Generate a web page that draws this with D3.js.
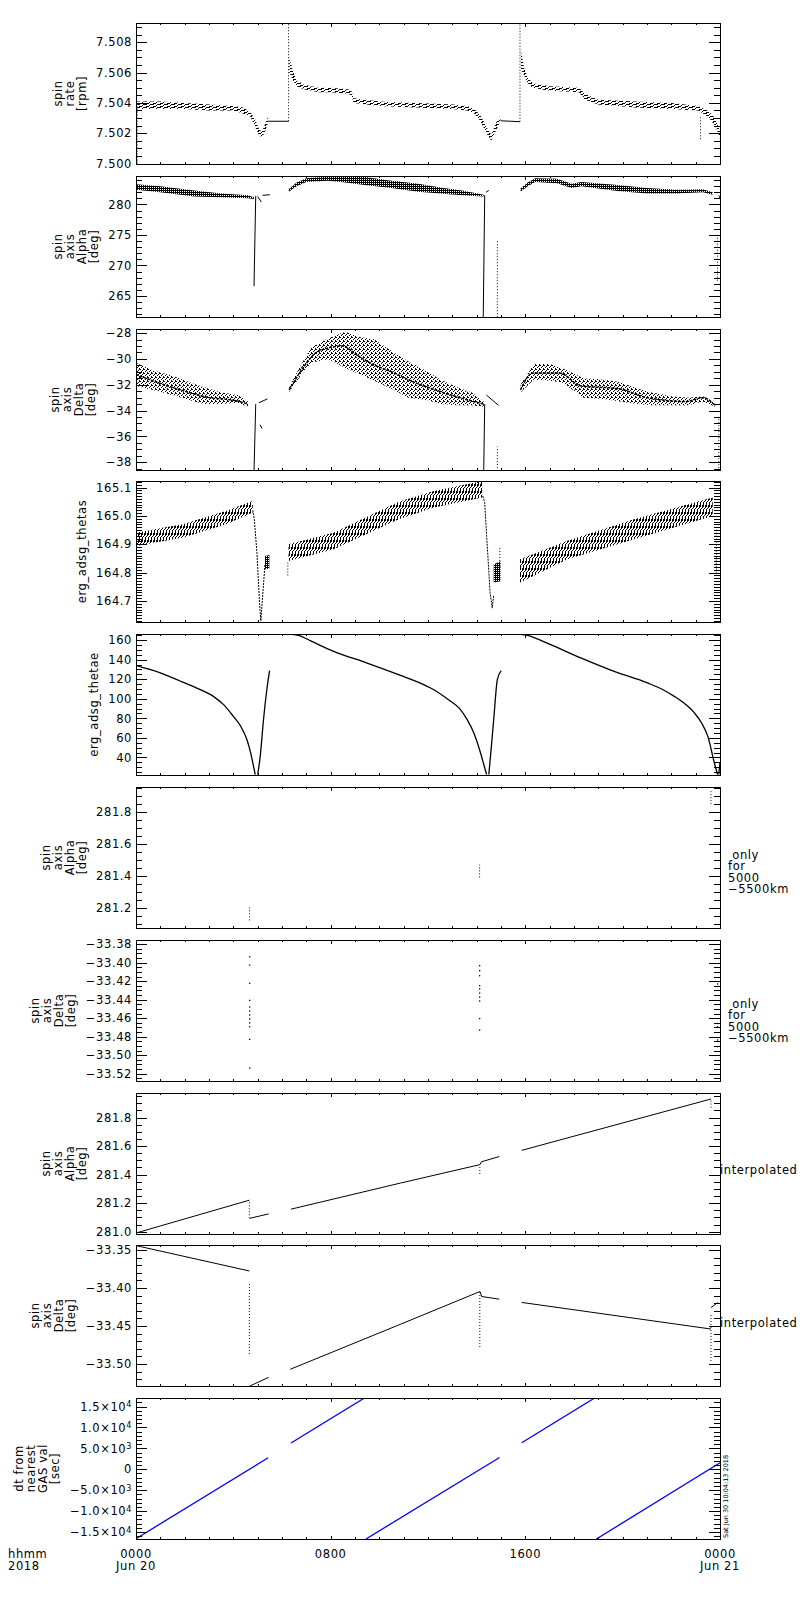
<!DOCTYPE html>
<html>
<head>
<meta charset="utf-8">
<script src="https://cdn.jsdelivr.net/npm/d3@7"></script>
<style>
  body { margin: 0; background: #fff; }
  text { font-family: "DejaVu Sans", sans-serif; font-size: 11.5px; letter-spacing: 0.6px; fill: #000; }
  .stamp { font-size: 6.5px; letter-spacing: 0; }
</style>
</head>
<body>
<div id="chart"></div>
<script>
// ---- x axis (hours of Jun 20 2018) ----
const xMajor = [0, 8, 16, 24];
const xMajorLabels = ["0000", "0800", "1600", "0000"];
const xDateLabels = ["Jun 20", "", "", "Jun 21"];

// ---- panel 1 : spin rate [rpm]  ([hour, low, high] bands, [hour, value] lines) ----
const rateTicks = [7.500, 7.502, 7.504, 7.506, 7.508];
const rateBand1 = [[0.05, 7.5036, 7.5041], [1.0, 7.5036, 7.5041], [2.0, 7.5036, 7.5040], [3.0, 7.5035, 7.5039],
  [4.0, 7.5035, 7.5038], [4.4, 7.5033, 7.5037], [4.7, 7.5031, 7.5034], [4.9, 7.5024, 7.5029],
  [5.05, 7.5019, 7.5023], [5.17, 7.5017, 7.5021], [5.3, 7.5021, 7.5026], [5.43, 7.5027, 7.5031]];
const rateBand2 = [[6.3, 7.5060, 7.5070], [6.45, 7.5055, 7.5061], [6.6, 7.5051, 7.5055], [6.9, 7.5049, 7.5052],
  [7.5, 7.5047, 7.5050], [8.0, 7.5047, 7.5050], [8.7, 7.5046, 7.5049], [8.85, 7.5045, 7.5048],
  [8.95, 7.5040, 7.5043], [10.0, 7.5038, 7.5041], [11.5, 7.5037, 7.5040], [13.0, 7.5036, 7.5039],
  [13.6, 7.5035, 7.5038], [13.9, 7.5033, 7.5036], [14.15, 7.5028, 7.5032], [14.4, 7.5020, 7.5024],
  [14.6, 7.5015, 7.5019], [14.8, 7.5022, 7.5027], [14.98, 7.5028, 7.5031]];
const rateBand3 = [[15.82, 7.5062, 7.5075], [15.95, 7.5058, 7.5063], [16.1, 7.5053, 7.5057], [16.3, 7.5050, 7.5053],
  [17.0, 7.5048, 7.5051], [18.2, 7.5047, 7.5050], [18.45, 7.5042, 7.5046], [19.0, 7.5039, 7.5042],
  [20.5, 7.5037, 7.5041], [22.0, 7.5036, 7.5040], [23.1, 7.5035, 7.5038], [23.5, 7.5031, 7.5035],
  [23.8, 7.5025, 7.5030], [24.0, 7.5017, 7.5021]];
const rateFlat1 = [[5.43, 7.50279], [6.27, 7.50279]];
const rateFlat2 = [[14.98, 7.50282], [15.4, 7.50279], [15.78, 7.50276]];
const rateSpikes = [[0.05, 7.5000, 7.5038], [6.27, 7.50279, 7.50927], [15.78, 7.50276, 7.50927], [23.2, 7.5016, 7.5031]];

// ---- panel 2 : spin axis Alpha [deg] ----
const alphaTicks = [265, 270, 275, 280];
const alphaBand1 = [[0.0, 282.4, 283.3], [1.0, 282.0, 283.0], [2.4, 281.3, 282.3], [3.5, 281.2, 281.8],
  [4.6, 281.0, 281.5], [4.85, 280.9, 281.2]];
const alphaBand2 = [[6.28, 282.1, 282.5], [6.6, 283.0, 283.6], [7.0, 283.7, 284.3], [7.9, 283.9, 284.6],
  [8.6, 283.6, 284.6], [9.4, 283.2, 284.5], [10.5, 282.7, 283.9], [11.6, 282.1, 283.4],
  [12.5, 281.8, 282.8], [13.4, 281.5, 282.3], [14.29, 281.3, 281.6]];
const alphaBand3 = [[15.8, 282.1, 282.6], [16.1, 283.0, 283.6], [16.4, 283.7, 284.3], [17.3, 283.5, 284.2],
  [17.9, 282.7, 283.4], [18.3, 283.0, 283.7], [19.8, 282.2, 283.2], [21.0, 281.8, 282.7],
  [22.2, 281.8, 282.4], [23.3, 282.0, 282.5], [23.7, 281.6, 282.0]];
const alphaDrop1 = [[4.92, 281.4], [4.85, 266.6]];
const alphaDrop2 = [[14.33, 281.5], [14.27, 261.5]];
const alphaBits = [[[5.0, 281.3], [5.15, 280.4]], [[5.2, 281.5], [5.5, 281.6]], [[14.38, 282.0], [14.5, 282.3]],
  [[23.95, 281.5], [24.0, 281.0]]];
const alphaDotted = [[14.85, 261.5, 274.2], [23.9, 267.5, 275.0]];

// ---- panel 3 : spin axis Delta [deg] ----
const deltaTicks = [-38, -36, -34, -32, -30, -28];
const deltaBand1 = [[0.0, -32.1, -30.3], [0.7, -32.4, -30.9], [1.5, -32.8, -31.3], [2.2, -33.2, -31.8],
  [2.8, -33.5, -32.2], [3.5, -33.5, -32.6], [4.2, -33.4, -32.8], [4.6, -33.7, -33.3]];
const deltaBand2 = [[6.28, -32.6, -32.2], [6.8, -31.2, -30.4], [7.2, -30.3, -29.1], [7.9, -30.0, -28.4],
  [8.6, -30.7, -27.9], [9.2, -31.2, -28.3], [9.8, -31.7, -28.5], [10.6, -32.4, -29.5],
  [11.2, -33.0, -30.2], [12.0, -33.2, -31.0], [12.5, -33.5, -31.6], [13.2, -33.6, -32.2],
  [13.8, -33.6, -32.6], [14.29, -33.7, -33.3]];
const deltaBand3 = [[15.8, -32.6, -32.0], [16.35, -31.6, -30.4], [17.0, -31.7, -30.4], [17.5, -31.8, -30.7],
  [18.4, -33.0, -31.5], [19.2, -33.1, -31.6], [19.9, -33.3, -31.8], [20.6, -33.5, -32.3],
  [21.2, -33.6, -32.6], [22.0, -33.6, -32.9], [22.7, -33.6, -33.0], [23.3, -33.3, -32.9],
  [23.8, -33.7, -33.5]];
const deltaCore1 = [[0, -31.2], [1, -31.9], [2, -32.5], [3, -33.0], [4, -33.2], [4.6, -33.5]];
const deltaCore2 = [[6.3, -32.4], [6.9, -30.6], [7.5, -29.4], [8.5, -29.0], [9.0, -29.6], [9.7, -30.4],
  [10.5, -31.0], [11.3, -31.7], [12.3, -32.4], [13.3, -33.0], [14.29, -33.5]];
const deltaCore3 = [[15.8, -32.4], [16.3, -31.1], [17.4, -31.1], [18.3, -32.1], [19.8, -32.3], [21.0, -33.0],
  [22.6, -33.3], [23.3, -33.0], [23.8, -33.6]];
const deltaDrop1 = [[4.92, -33.5], [4.85, -38.7]];
const deltaDrop2 = [[14.33, -33.5], [14.29, -38.7]];
const deltaBits = [[[5.05, -33.4], [5.4, -33.1]], [[5.1, -35.1], [5.18, -35.4]], [[14.4, -32.8], [14.9, -33.6]]];
const deltaDotted = [[14.85, -38.7, -36.8], [23.95, -38.7, -34.5]];

// ---- panel 4 : erg_adsg_thetas ----
const thetasTicks = [164.7, 164.8, 164.9, 165.0, 165.1];
const thetasBand1 = [[0.0, 164.894, 164.941], [1.95, 164.924, 164.971], [3.73, 164.971, 165.018], [4.8, 165.012, 165.053]];
const thetasBand2 = [[6.27, 164.841, 164.9], [8.12, 164.882, 164.941], [10.8, 164.988, 165.05],
  [12.24, 165.03, 165.088], [14.23, 165.065, 165.123]];
const thetasBand3 = [[15.78, 164.765, 164.847], [17.73, 164.847, 164.912], [20.47, 164.918, 164.988], [23.7, 165.0, 165.065]];
const thetasClump1 = [[5.30, 164.812, 164.859], [5.48, 164.815, 164.862]];
const thetasClump2 = [[14.7, 164.765, 164.83], [14.98, 164.77, 164.84]];
const thetasDip1 = [[4.80, 165.02], [4.86, 164.99], [4.97, 164.87], [5.08, 164.69], [5.13, 164.63],
  [5.19, 164.70], [5.25, 164.77], [5.30, 164.83]];
const thetasDip2 = [[14.25, 165.07], [14.33, 165.047], [14.41, 164.93], [14.46, 164.86], [14.55, 164.73],
  [14.64, 164.675], [14.7, 164.72]];
const thetasDotted = [[6.24, 164.79, 164.84], [23.85, 164.80, 164.96], [14.95, 164.82, 164.89]];

// ---- panel 5 : erg_adsg_thetae ----
const thetaeTicks = [40, 60, 80, 100, 120, 140, 160];
const thetae1 = [[0, 134.0], [0.5, 130.5], [1.0, 126.5], [1.81, 118.2], [2.5, 111], [3.18, 102.5], [3.6, 94],
  [4.0, 82], [4.3, 72], [4.56, 58.1], [4.7, 46], [4.83, 30.8], [4.9, 22.5]];
const thetae1b = [[5.0, 22.5], [5.1, 40], [5.24, 78.6], [5.38, 110], [5.49, 128.8]];
const thetae2 = [[6.27, 166.3], [6.68, 165], [7.2, 159], [8.12, 148.5], [9.5, 136.6], [10.87, 124], [11.6, 117],
  [12.24, 109.3], [12.9, 98], [13.3, 90], [13.61, 78.6], [13.9, 64], [14.16, 44.5], [14.3, 32], [14.41, 22.5]];
const thetae2b = [[14.5, 22.5], [14.6, 50], [14.7, 78.6], [14.85, 119.6], [15.01, 128.8]];
const thetae3 = [[15.77, 166.3], [16.08, 165], [17.04, 155.4], [18.28, 141.8], [19.65, 128], [21.02, 116.2],
  [21.6, 110], [22.12, 102.5], [22.6, 94], [22.95, 85.5], [23.25, 75], [23.5, 61.5], [23.77, 34.3], [23.9, 22.5]];
const thetae3b = [[23.95, 22.5], [24.0, 35]];

// ---- panel 6 : Alpha, only for 5000-5500km ([hour, low, high] dot columns) ----
const alphaOnlyTicks = [281.2, 281.4, 281.6, 281.8];
const alphaOnly = [[4.67, 281.12, 281.21], [14.12, 281.39, 281.47], [23.63, 281.85, 281.94]];

// ---- panel 7 : Delta, only for 5000-5500km ----
const deltaOnlyTicks = [-33.52, -33.50, -33.48, -33.46, -33.44, -33.42, -33.40, -33.38];
const deltaOnly = [[4.67, -33.3936], [4.67, -33.4025], [4.67, -33.4222], [4.67, -33.4407], [4.67, -33.4479],
  [4.67, -33.4522], [4.67, -33.4565], [4.67, -33.4607], [4.67, -33.465], [4.67, -33.4693], [4.67, -33.4829],
  [4.67, -33.514],
  [14.12, -33.4032], [14.12, -33.4086], [14.12, -33.414], [14.12, -33.4247], [14.12, -33.4282], [14.12, -33.4329],
  [14.12, -33.4372], [14.12, -33.4414], [14.12, -33.4604], [14.12, -33.4729],
  [23.9, -33.4229], [23.9, -33.4657], [23.9, -33.4693], [23.9, -33.4836], [23.9, -33.4907]];

// ---- panel 8 : Alpha interpolated ----
const alphaIntTicks = [281.0, 281.2, 281.4, 281.6, 281.8];
const alphaInt = [
  [[0.0, 280.991], [4.66, 281.221]],
  [[4.68, 281.094], [5.45, 281.125]],
  [[6.37, 281.158], [10.87, 281.341], [14.13, 281.47]],
  [[14.13, 281.47], [14.2, 281.49], [14.93, 281.527]],
  [[15.85, 281.57], [23.63, 281.93]]];
const alphaIntDotted = [[4.66, 281.094, 281.221], [14.13, 281.405, 281.47], [23.63, 281.87, 281.93]];

// ---- panel 9 : Delta interpolated ----
const deltaIntTicks = [-33.50, -33.45, -33.40, -33.35];
const deltaInt = [
  [[0, -33.3442], [4.66, -33.3776]],
  [[4.68, -33.529], [5.45, -33.5176]],
  [[6.34, -33.507], [10.87, -33.4477], [14.13, -33.4047]],
  [[14.15, -33.405], [14.2, -33.4112], [14.93, -33.4147]],
  [[15.85, -33.419], [23.63, -33.454]],
  [[23.63, -33.4258], [23.9, -33.4192]]];
const deltaIntDotted = [[4.66, -33.487, -33.395], [14.13, -33.4776, -33.4047], [23.63, -33.496, -33.435]];

// ---- panel 10 : dt from nearest GAS val [sec] ----
const dtTicks = [-15000, -10000, -5000, 0, 5000, 10000, 15000];
const dtTickLabels = ["\u22121.5\u00d710^4", "\u22121.0\u00d710^4", "\u22125.0\u00d710^3", "0", "5.0\u00d710^3", "1.0\u00d710^4", "1.5\u00d710^4"];
const dtSegments = [
  [[0, -16600], [5.43, 2760]],
  [[6.37, 6290], [9.39, 17057]],
  [[9.45, -16675], [14.94, 2830]],
  [[15.85, 6350], [18.85, 17057]],
  [[18.92, -16675], [24.0, 1560]]];

// ---------------------------------------------------------------
const left = 136, right = 720, panelH = 141;
const pw = right - left;

const svg = d3.select("#chart").append("svg")
  .attr("width", 800)
  .attr("height", 1600);

const x = d3.scaleLinear().domain([0, 24]).range([0, pw]);

// fill patterns that mimic the dense dot clouds
const defs = svg.append("defs");
function pattern(id, w, h, px) {
  const p = defs.append("pattern").attr("id", id)
    .attr("width", w).attr("height", h)
    .attr("patternUnits", "userSpaceOnUse");
  px.forEach(r => p.append("rect")
    .attr("x", r[0]).attr("y", r[1]).attr("width", r[2]).attr("height", r[3])
    .attr("fill", "#000").attr("shape-rendering", "crispEdges"));
}
pattern("pDash", 7, 3, [[0, 0, 4, 1], [3, 2, 3, 1], [6, 1, 1, 1]]);
pattern("pDense", 2, 2, [[0, 0, 1, 1], [1, 0, 1, 1], [1, 1, 1, 1]]);
pattern("pStipple", 4, 4, [[0, 0, 1, 1], [2, 1, 1, 1], [1, 2, 1, 1], [3, 3, 1, 1], [3, 0, 1, 1]]);
pattern("pHatch", 3, 7, [[0, 0, 1, 5], [2, 3, 1, 3], [1, 6, 1, 1]]);

// helpers for marks
function band(g, data, y, fill) {
  g.append("path").datum(data)
    .attr("d", d3.area().x(d => x(d[0])).y0(d => y(d[1])).y1(d => y(d[2])))
    .attr("fill", `url(#${fill})`);
}
function line(g, data, y, o = {}) {
  g.append("path").datum(data)
    .attr("d", d3.line().curve(o.curve || d3.curveLinear).x(d => x(d[0])).y(d => y(d[1])))
    .attr("fill", "none")
    .attr("stroke", o.color || "#000")
    .attr("stroke-width", o.w || 1)
    .attr("stroke-dasharray", o.dash || null);
}
function vdots(g, data, y) {
  data.forEach(d => line(g, [[d[0], d[1]], [d[0], d[2]]], y, {dash: "1,2"}));
}
function dots(g, data, y) {
  g.selectAll(null).data(data).join("rect")
    .attr("x", d => x(d[0]) - 0.6)
    .attr("y", d => y(d[1]) - 0.6)
    .attr("width", 1.3).attr("height", 1.3)
    .attr("fill", "#000");
}

const onlyNote = [" only", "for", "5000", "\u22125500km"];
const f3 = d3.format(".3f"), f0 = d3.format("d"), f1 = d3.format(".1f"), f2 = d3.format(".2f");

const panels = [
  {title: ["spin", "rate", "[rpm]"], domain: [7.49997, 7.50927], ticks: rateTicks, minor: 0.0005, fmt: f3,
   draw: (g, y) => {
     band(g, rateBand1, y, "pDash"); band(g, rateBand2, y, "pDash"); band(g, rateBand3, y, "pDash");
     line(g, rateFlat1, y); line(g, rateFlat2, y);
     vdots(g, rateSpikes, y);
   }},
  {title: ["spin", "axis", "Alpha", "[deg]"], domain: [261.54, 284.67], ticks: alphaTicks, minor: 1, fmt: f0,
   draw: (g, y) => {
     band(g, alphaBand1, y, "pDense"); band(g, alphaBand2, y, "pDense"); band(g, alphaBand3, y, "pDense");
     line(g, alphaDrop1, y); line(g, alphaDrop2, y);
     alphaBits.forEach(b => line(g, b, y));
     vdots(g, alphaDotted, y);
   }},
  {title: ["spin", "axis", "Delta", "[deg]"], domain: [-38.61, -27.68], ticks: deltaTicks, minor: 0.5, fmt: f0,
   draw: (g, y) => {
     band(g, deltaBand1, y, "pStipple"); band(g, deltaBand2, y, "pStipple"); band(g, deltaBand3, y, "pStipple");
     [deltaCore1, deltaCore2, deltaCore3].forEach(s => line(g, s, y, {w: 1.5, dash: "3,1", curve: d3.curveMonotoneX}));
     line(g, deltaDrop1, y); line(g, deltaDrop2, y);
     deltaBits.forEach(b => line(g, b, y));
     vdots(g, deltaDotted, y);
   }},
  {title: ["erg_adsg_thetas"], domain: [164.626, 165.123], ticks: thetasTicks, minor: 0.01, fmt: f1,
   draw: (g, y) => {
     band(g, thetasBand1, y, "pHatch"); band(g, thetasBand2, y, "pHatch"); band(g, thetasBand3, y, "pHatch");
     band(g, thetasClump1, y, "pDense"); band(g, thetasClump2, y, "pDense");
     line(g, thetasDip1, y, {dash: "2,1"}); line(g, thetasDip2, y, {dash: "2,1"});
     vdots(g, thetasDotted, y);
   }},
  {title: ["erg_adsg_thetae"], domain: [22, 166.3], ticks: thetaeTicks, minor: 5, fmt: f0,
   draw: (g, y) => {
     [thetae1, thetae1b, thetae2, thetae2b, thetae3, thetae3b].forEach(s => line(g, s, y, {w: 1.3, curve: d3.curveMonotoneX}));
   }},
  {title: ["spin", "axis", "Alpha", "[deg]"], domain: [281.072, 281.958], ticks: alphaOnlyTicks, minor: 0.05, fmt: f1,
   note: onlyNote, noteDy: 1,
   draw: (g, y) => { vdots(g, alphaOnly, y); }},
  {title: ["spin", "axis", "Delta", "[deg]"], domain: [-33.528, -33.3754], ticks: deltaOnlyTicks, minor: 0.005, fmt: f2,
   note: onlyNote, noteDy: -3,
   draw: (g, y) => { dots(g, deltaOnly, y); }},
  {title: ["spin", "axis", "Alpha", "[deg]"], domain: [280.984, 281.972], ticks: alphaIntTicks, minor: 0.05, fmt: f1,
   note: ["interpolated"], noteDy: 10,
   draw: (g, y) => { alphaInt.forEach(s => line(g, s, y)); vdots(g, alphaIntDotted, y); }},
  {title: ["spin", "axis", "Delta", "[deg]"], domain: [-33.529, -33.3434], ticks: deltaIntTicks, minor: 0.01, fmt: f2,
   note: ["interpolated"], noteDy: 11,
   draw: (g, y) => { deltaInt.forEach(s => line(g, s, y)); vdots(g, deltaIntDotted, y); }},
  {title: ["dt from", "nearest", "GAS val", "[sec]"], domain: [-16675, 17057], ticks: dtTicks, minor: 1000,
   labels: dtTickLabels,
   draw: (g, y) => { dtSegments.forEach(s => line(g, s, y, {color: "#0000ff", w: 1.3})); }}
];

function minors(domain, stepV) {
  const a = Math.ceil(domain[0] / stepV - 1e-6), b = Math.floor(domain[1] / stepV + 1e-6);
  return d3.range(a, b + 1).map(k => k * stepV);
}

panels.forEach((p, i) => {
  const top = Math.round(23 + i * 152.8);
  const g = svg.append("g").attr("transform", `translate(${left},${top})`);
  const y = d3.scaleLinear().domain(p.domain).range([panelH, 0]);

  // clipped data marks
  const clipId = "clip" + i;
  g.append("clipPath").attr("id", clipId)
    .append("rect").attr("width", pw).attr("height", panelH);
  const marks = g.append("g").attr("clip-path", `url(#${clipId})`);
  p.draw(marks, y);

  // axes, ticks pointing inward
  const ax = g.append("g").attr("shape-rendering", "crispEdges");
  const yl = ax.append("g").call(d3.axisLeft(y).tickValues(p.ticks)
    .tickFormat(p.labels ? "" : p.fmt).tickSizeInner(-11).tickSizeOuter(0).tickPadding(4));
  ax.append("g").call(d3.axisLeft(y).tickValues(minors(p.domain, p.minor)).tickFormat("").tickSizeInner(-6).tickSizeOuter(0));
  ax.append("g").attr("transform", `translate(${pw},0)`)
    .call(d3.axisRight(y).tickValues(p.ticks).tickFormat("").tickSizeInner(-11).tickSizeOuter(0));
  ax.append("g").attr("transform", `translate(${pw},0)`)
    .call(d3.axisRight(y).tickValues(minors(p.domain, p.minor)).tickFormat("").tickSizeInner(-6).tickSizeOuter(0));
  ax.append("g").attr("transform", `translate(0,${panelH})`)
    .call(d3.axisBottom(x).tickValues(d3.range(25)).tickFormat("").tickSizeInner(-2).tickSizeOuter(0));
  ax.append("g").attr("transform", `translate(0,${panelH})`)
    .call(d3.axisBottom(x).tickValues(xMajor).tickFormat("").tickSizeInner(-3.5).tickSizeOuter(0));
  ax.append("g").call(d3.axisTop(x).tickValues(d3.range(25)).tickFormat("").tickSizeInner(-2).tickSizeOuter(0));
  ax.append("g").call(d3.axisTop(x).tickValues(xMajor).tickFormat("").tickSizeInner(-3.5).tickSizeOuter(0));
  ax.selectAll(".domain").remove();
  ax.selectAll(".tick line").attr("stroke", "#000");
  ax.append("rect").attr("x", 0).attr("y", 0).attr("width", pw).attr("height", panelH)
    .attr("fill", "none").attr("stroke", "#000");

  // superscript labels for the dt panel
  if (p.labels) {
    yl.selectAll(".tick text").each(function(d, k) {
      const parts = p.labels[k].split("^");
      const t = d3.select(this).text(parts[0]);
      if (parts[1]) t.append("tspan").attr("dy", "-0.45em").style("font-size", "8px").text(parts[1]);
    });
  }

  // y title (rotated), placed left of the widest tick label
  let minX = 0;
  yl.selectAll(".tick text").each(function() { minX = Math.min(minX, this.getBBox().x); });
  const lastBase = minX - 14 + 3.5;
  const firstBase = lastBase - 12 * (p.title.length - 1);
  const tt = g.append("text")
    .attr("transform", `translate(${firstBase},${panelH / 2}) rotate(-90)`)
    .attr("text-anchor", "middle");
  p.title.forEach((s, k) => tt.append("tspan").attr("x", 0).attr("dy", k ? 12 : 0).text(s));

  // right-hand notes
  if (p.note) {
    const nt = g.append("text").attr("x", pw + 8).attr("y", panelH / 2 + p.noteDy).style("white-space", "pre");
    p.note.forEach((s, k) => nt.append("tspan").attr("x", p.note.length > 1 ? pw + 8 : pw).attr("dy", k ? 11.6 : 0).text(s));
  }

  // time axis labels under the last panel
  if (i === panels.length - 1) {
    xMajor.forEach((h, k) => {
      g.append("text").attr("x", x(h)).attr("y", panelH + 19).attr("text-anchor", "middle").text(xMajorLabels[k]);
      if (xDateLabels[k]) g.append("text").attr("x", x(h)).attr("y", panelH + 30.5).attr("text-anchor", "middle").text(xDateLabels[k]);
    });
    g.append("text").attr("x", 8 - left).attr("y", panelH + 19).text("hhmm");
    g.append("text").attr("x", 8 - left).attr("y", panelH + 30.5).text("2018");
    g.append("text").attr("class", "stamp")
      .attr("transform", `translate(${pw + 8},${panelH - 1}) rotate(-90)`)
      .text("Sat Jun 30 10:04:13 2018");
  }
});
</script>
</body>
</html>
